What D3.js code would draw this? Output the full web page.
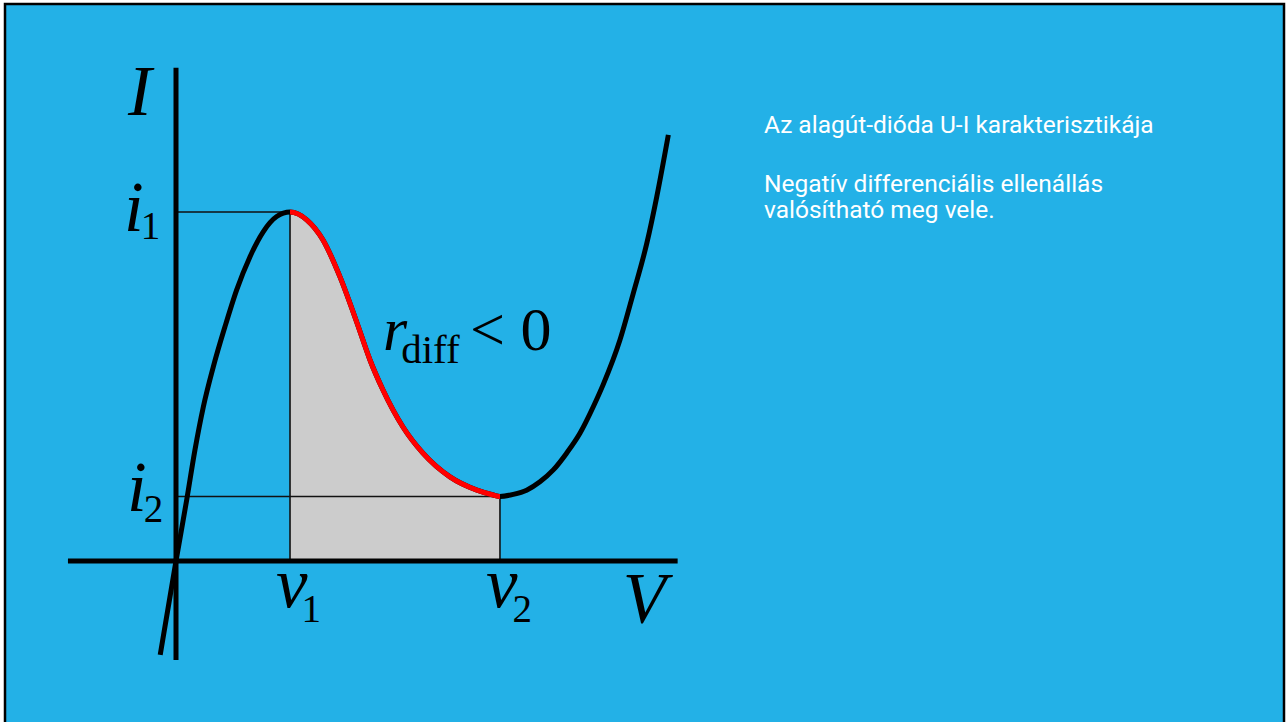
<!DOCTYPE html>
<html>
<head>
<meta charset="utf-8">
<script src="https://cdn.jsdelivr.net/npm/d3@7"></script>
<style>
  body { margin: 0; background: #fff; }
</style>
</head>
<body>
<div id="graph"></div>
<script>
// Data (voltage in mV, current in mA)
const voltage = [-9, 0, 6.1, 10.8, 15.6, 21.3, 27.9, 34.6, 42.2, 49.8, 57.4, 65,
  74.7, 83.8, 93.5, 103.2, 110.6, 118, 129.4, 140.8, 156.2, 171.6, 180.9, 184.7,
  192.3, 199.9, 207.5, 215.1, 222.7, 230.3, 237.9, 243.6, 253.1, 260.7, 268.4,
  274.1, 280.7];
const current = [-2.69, 0, 1.75, 3.18, 4.42, 5.57, 6.71, 7.77, 8.72, 9.44, 9.87, 10,
  9.77, 9.2, 8.14, 6.82, 5.76, 4.9, 3.84, 3.09, 2.41, 2.03, 1.89, 1.85,
  1.91, 2.03, 2.27, 2.61, 3.09, 3.66, 4.42, 5.06, 6.33, 7.67, 9.1,
  10.44, 12.21];

// peak and valley points
const peak = { v: 65, i: 10 };
const valley = { v: 184.7, i: 1.85 };

// axis extents
const vAxisRange = [-61.6, 286];
const iAxisRange = [-2.84, 14.13];

const infoLines = [
  "Az alagút-dióda U-I karakterisztikája",
  "Negatív differenciális ellenállás",
  "valósítható meg vele.",
];
const infoBaselines = [133, 192, 218];

const WIDTH = 1286;
const HEIGHT = 722;
const BG = "#23b1e7";

const data = voltage.map((v, k) => ({ v: v, i: current[k] }));

// scales
const x = d3.scaleLinear().domain([0, 300]).range([176, 176 + 300 * 1.754]);
const y = d3.scaleLinear().domain([0, 10]).range([561, 212]);

const svg = d3
  .select("#graph")
  .append("svg")
  .attr("width", WIDTH)
  .attr("height", HEIGHT)
  .style("display", "block");

// Frame
svg
  .append("rect")
  .attr("x", 5)
  .attr("y", 4)
  .attr("width", 1279)
  .attr("height", 760)
  .attr("fill", BG)
  .attr("stroke", "#000")
  .attr("stroke-width", 2.5);

// clip for the negative resistance region
svg
  .append("clipPath")
  .attr("id", "ndr")
  .append("rect")
  .attr("x", x(peak.v))
  .attr("y", 0)
  .attr("width", x(valley.v) - x(peak.v))
  .attr("height", HEIGHT);

const curve = d3.curveMonotoneX;

const line = d3
  .line()
  .x((d) => x(d.v))
  .y((d) => y(d.i))
  .curve(curve);

const area = d3
  .area()
  .x((d) => x(d.v))
  .y0(y(0))
  .y1((d) => y(d.i))
  .curve(curve);

// Gray area under the ndr part
svg
  .append("path")
  .datum(data)
  .attr("d", area)
  .attr("clip-path", "url(#ndr)")
  .attr("fill", "#cccccc");

// Guide lines
const guides = [
  [x(0), y(peak.i), x(peak.v), y(peak.i)],
  [x(peak.v), y(peak.i), x(peak.v), y(0)],
  [x(0), y(valley.i), x(valley.v), y(valley.i)],
  [x(valley.v), y(valley.i), x(valley.v), y(0)],
];
svg
  .selectAll(".guide")
  .data(guides)
  .enter()
  .append("line")
  .attr("class", "guide")
  .attr("x1", (d) => d[0])
  .attr("y1", (d) => d[1])
  .attr("x2", (d) => d[2])
  .attr("y2", (d) => d[3])
  .attr("stroke", "#111")
  .attr("stroke-width", 1.6);

// Curve
svg
  .append("path")
  .datum(data)
  .attr("d", line)
  .attr("fill", "none")
  .attr("stroke", "#000")
  .attr("stroke-width", 5);

svg
  .append("path")
  .datum(data)
  .attr("d", line)
  .attr("clip-path", "url(#ndr)")
  .attr("fill", "none")
  .attr("stroke", "#ff0000")
  .attr("stroke-width", 5);

// Axes
svg
  .append("line")
  .attr("x1", x(vAxisRange[0]))
  .attr("x2", x(vAxisRange[1]))
  .attr("y1", y(0))
  .attr("y2", y(0))
  .attr("stroke", "#000")
  .attr("stroke-width", 5);

svg
  .append("line")
  .attr("x1", x(0))
  .attr("x2", x(0))
  .attr("y1", y(iAxisRange[0]))
  .attr("y2", y(iAxisRange[1]))
  .attr("stroke", "#000")
  .attr("stroke-width", 5);

// Math labels
const serif = "'Liberation Serif', 'Times New Roman', serif";

function mathLabel(px, py, main, sub, subDx, subDy) {
  const t = svg
    .append("text")
    .attr("x", px)
    .attr("y", py)
    .attr("font-family", serif)
    .attr("fill", "#000");
  t.append("tspan")
    .attr("font-style", "italic")
    .attr("font-size", 71)
    .text(main);
  if (sub) {
    t.append("tspan")
      .attr("font-size", 39)
      .attr("dx", subDx)
      .attr("dy", subDy)
      .text(sub);
  }
}

mathLabel(x(0) - 48, y(iAxisRange[1]) + 47, "I");
mathLabel(x(0) - 52, y(peak.i) + 19, "i", "1", -3, 8);
mathLabel(x(0) - 49, y(valley.i) + 15, "i", "2", -3, 11);
mathLabel(x(peak.v) - 14, y(0) + 46, "v", "1", -6, 15);
mathLabel(x(valley.v) - 14, y(0) + 46, "v", "2", -5, 15);
mathLabel(x(vAxisRange[1]) - 55, y(0) + 61, "V");

// r_diff < 0
const rdiff = svg
  .append("text")
  .attr("x", 383)
  .attr("y", 350)
  .attr("font-family", serif)
  .attr("fill", "#000");
rdiff.append("tspan").attr("font-style", "italic").attr("font-size", 62).text("r");
rdiff.append("tspan").attr("font-size", 41).attr("dx", -6).attr("dy", 13).text("diff");
rdiff.append("tspan").attr("font-size", 62).attr("dx", -5).attr("dy", -13).text(" < 0");

// Info text
svg
  .selectAll(".info")
  .data(infoLines)
  .enter()
  .append("text")
  .attr("class", "info")
  .attr("x", 764)
  .attr("y", (d, k) => infoBaselines[k])
  .attr("font-family", "Roboto, sans-serif")
  .attr("font-size", 24.5)
  .attr("fill", "#fff")
  .text((d) => d);
</script>
</body>
</html>
